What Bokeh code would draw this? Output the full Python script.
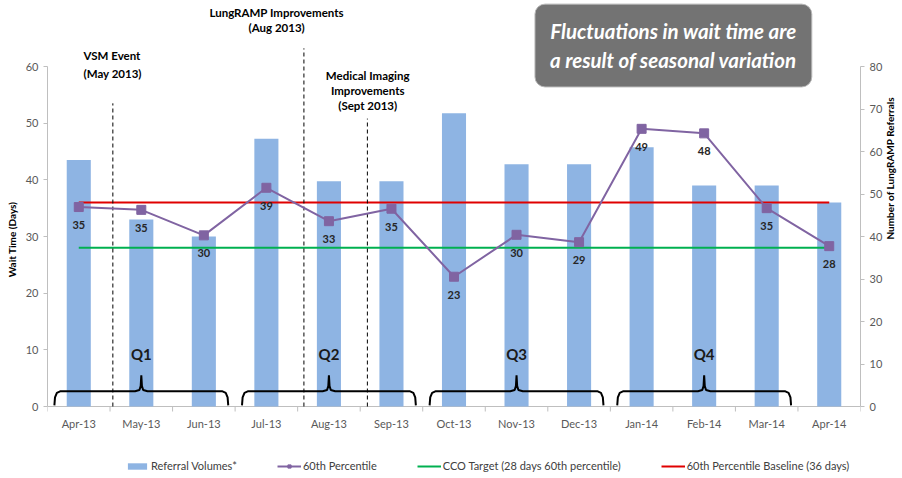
import math
from bokeh.plotting import figure
from bokeh.models import (Range1d, LinearAxis, FixedTicker, Legend, LegendItem, Label)
from bokeh.embed import file_html
from bokeh.resources import INLINE
from bokeh.core.properties import value

# ---- data ----
months = ["Apr-13", "May-13", "Jun-13", "Jul-13", "Aug-13", "Sep-13", "Oct-13",
          "Nov-13", "Dec-13", "Jan-14", "Feb-14", "Mar-14", "Apr-14"]
referrals = [58, 44, 40, 63, 53, 53, 69, 57, 57, 61, 52, 52, 48]
wait_60th = [35.2, 34.7, 30.2, 38.6, 32.7, 34.9, 22.9, 30.3, 29.0, 49.0, 48.2, 35.0, 28.3]
cco_target = 28
baseline = 36
quarters = ["Q1", "Q2", "Q3", "Q4"]
quarter_centers = [1, 4, 7, 10]
event_x = [0.545, 3.6, 4.615]
event_top = [53.5, 63.2, 50.8]
left_ticks = [0, 10, 20, 30, 40, 50, 60]
right_ticks = [0, 10, 20, 30, 40, 50, 60, 70, 80]

FONT = "Lato"
idx = list(range(len(months)))

PX = 340 / 60.0              # pixels per wait-time unit
y_end = 406 / PX
y_start = -(478 - 406) / PX
p = figure(frame_width=813, frame_height=478, output_backend="svg", toolbar_location=None,
           x_range=Range1d(-0.5, 12.5), y_range=Range1d(y_start, y_end),
           x_axis_location=None,
           min_border_left=47, min_border_right=42, min_border_top=0, min_border_bottom=0)
p.extra_y_ranges = {"right": Range1d(y_start * 80 / 60, y_end * 80 / 60)}
p.outline_line_color = None
p.xgrid.visible = False
p.ygrid.visible = False
p.background_fill_color = "white"
p.border_fill_color = "white"

# x axis (category axis drawn from the month list)
p.segment(x0=[-0.5], y0=[0], x1=[12.5], y1=[0], line_color="#bfbfbf", line_width=1)
bounds = [i - 0.5 for i in range(len(months) + 1)]
p.segment(x0=bounds, y0=[0] * len(bounds), x1=bounds, y1=[-5 / PX] * len(bounds),
          line_color="#bfbfbf", line_width=1)
p.text(x=idx, y=[0] * len(idx), text=months, y_offset=17, text_align="center",
       text_baseline="middle", text_font=value(FONT), text_font_size="11px", text_color="#595959")

ly = LinearAxis(ticker=FixedTicker(ticks=left_ticks), bounds=(0, 60), axis_label="Wait Time (Days)")
p.yaxis.visible = False
p.add_layout(ly, "left")

ry = LinearAxis(y_range_name="right", ticker=FixedTicker(ticks=right_ticks), bounds=(0, 80),
                axis_label="Number of LungRAMP Referrals")
p.add_layout(ry, "right")
if hasattr(ry, "axis_label_orientation"):
    ry.axis_label_orientation = math.pi / 2

for a in (ly, ry):
    a.axis_line_color = "#bfbfbf"
    a.major_tick_line_color = "#bfbfbf"
    a.major_tick_out = 4
    a.major_tick_in = 0
    a.minor_tick_out = 0
    a.minor_tick_in = 0
    a.major_label_text_font = FONT
    a.major_label_text_font_size = "11px"
    a.major_label_text_color = "#595959"
    a.major_label_standoff = 5
    a.axis_label_text_font = FONT
    a.axis_label_text_font_size = "10px"
    a.axis_label_text_font_style = "bold"
    a.axis_label_text_color = "black"
    a.axis_label_standoff = 5

# bars
bars = p.vbar(x=idx, top=referrals, bottom=0, width=0.385, y_range_name="right",
              fill_color="#8EB4E3", line_color=None)

# reference lines
g_line = p.line(x=[idx[0], idx[-1]], y=[cco_target, cco_target], line_color="#00B050", line_width=2)
r_line = p.line(x=[idx[0], idx[-1]], y=[baseline, baseline], line_color="#E00000", line_width=2)

# event lines
p.segment(x0=event_x, y0=[0] * 3, x1=event_x, y1=event_top, line_color="black",
          line_width=1, line_dash="4 3")

# braces
bx, by = [], []
w = 1.39
for c in quarter_centers:
    bx.append([c - w, c - w + 0.01, c - w + 0.04, c - w + 0.1, c - 0.1, c - 0.03, c - 0.01, c,
               c + 0.01, c + 0.03, c + 0.1, c + w - 0.1, c + w - 0.04, c + w - 0.01, c + w])
    by.append([0.2, 1.6, 2.4, 2.7, 2.7, 2.9, 3.6, 5.5, 3.6, 2.9, 2.7, 2.7, 2.4, 1.6, 0.2])
p.multi_line(xs=bx, ys=by, line_color="black", line_width=2)
p.text(x=quarter_centers, y=[9.2] * 4, text=quarters, text_align="center", text_baseline="middle",
       text_font=value(FONT), text_font_style="bold", text_font_size="15px", text_color="#1a1a1a")

# percentile line
pl = p.line(x=idx, y=wait_60th, line_color="#8064A2", line_width=2)
pm = p.scatter(x=idx, y=wait_60th, marker="square", size=9, fill_color="#8064A2", line_color="#8064A2")
p.text(x=idx, y=wait_60th, text=[str(round(v)) for v in wait_60th], text_align="center",
       text_baseline="middle", y_offset=18, text_font=value(FONT), text_font_style="bold",
       text_font_size="11px", text_color="#262626")

# event annotations
def lab(x, y, t, align="center"):
    p.add_layout(Label(x=x, y=y, text=t, text_align=align, text_baseline="middle",
                       text_font=FONT, text_font_style="bold", text_font_size="11.5px",
                       text_color="black"))

lab(0.076, 61.9, "VSM Event", "left")
lab(0.076, 58.8, "(May 2013)", "left")
lab(3.164, 69.5, "LungRAMP Improvements")
lab(3.164, 66.9, "(Aug 2013)")
lab(4.62, 58.4, "Medical Imaging")
lab(4.62, 55.8, "Improvements")
lab(4.62, 53.1, "(Sept 2013)")

# call-out box
p.add_layout(Label(x=9.508, y=63.7, text="Fluctuations in wait time are\na result of seasonal variation",
                   text_align="center", text_baseline="middle", text_color="white",
                   text_font=FONT, text_font_size="20.5px", text_font_style="bold italic",
                   text_line_height=1.2,
                   background_fill_color="#737373", border_line_color="#b5b5b5",
                   border_line_width=1, border_radius=10, padding=15))

# legend
legend = Legend(items=[
    LegendItem(label="Referral Volumes*", renderers=[bars]),
    LegendItem(label="60th Percentile", renderers=[pl, pm]),
    LegendItem(label="CCO Target (28 days 60th percentile)", renderers=[g_line]),
    LegendItem(label="60th Percentile Baseline (36 days)", renderers=[r_line]),
], orientation="horizontal", location=(78, 6))
legend.label_text_font = FONT
legend.label_text_font_size = "11px"
legend.label_text_color = "#404040"
legend.glyph_width = 24
legend.glyph_height = 8
legend.spacing = 40
legend.label_standoff = 2
legend.padding = 0
legend.margin = 0
legend.border_line_color = None
legend.background_fill_alpha = 0
p.add_layout(legend, "center")

open("out.html", "w").write(file_html(p, INLINE))
